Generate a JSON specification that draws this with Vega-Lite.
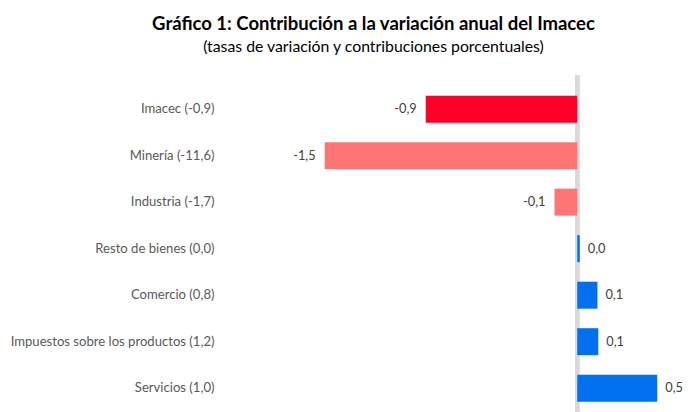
{
  "$schema": "https://vega.github.io/schema/vega-lite/v6.json",
  "autosize": {"type": "none"},
  "padding": {"left": 222, "top": 75, "right": 3, "bottom": 0},
  "width": 463,
  "height": 337,
  "background": "white",
  "title": {
    "text": "Gráfico 1: Contribución a la variación anual del Imacec",
    "subtitle": "(tasas de variación y contribuciones porcentuales)",
    "anchor": "middle",
    "dx": -80,
    "offset": 18,
    "font": "Lato",
    "fontSize": 18.5,
    "fontWeight": "bold",
    "color": "#000000",
    "subtitleFont": "Lato",
    "subtitleFontSize": 15.8,
    "subtitleColor": "#000000",
    "subtitlePadding": 7
  },
  "data": {
    "values": [
      {"sector": "Imacec (-0,9)", "contribucion": -0.9, "grupo": "Total"},
      {"sector": "Minería (-11,6)", "contribucion": -1.5, "grupo": "Negativo"},
      {"sector": "Industria (-1,7)", "contribucion": -0.135, "grupo": "Negativo"},
      {"sector": "Resto de bienes (0,0)", "contribucion": 0.015, "grupo": "Positivo"},
      {"sector": "Comercio (0,8)", "contribucion": 0.12, "grupo": "Positivo"},
      {"sector": "Impuestos sobre los productos (1,2)", "contribucion": 0.125, "grupo": "Positivo"},
      {"sector": "Servicios (1,0)", "contribucion": 0.475, "grupo": "Positivo"}
    ]
  },
  "encoding": {
    "y": {
      "field": "sector",
      "type": "nominal",
      "sort": null,
      "scale": {"paddingInner": 0.42, "paddingOuter": 0.333, "align": 0.667, "round": false},
      "axis": {"title": null, "domain": false, "ticks": false, "labelPadding": 8, "labelFont": "Lato", "labelFontSize": 13.1, "labelColor": "#595959", "labelLimit": 0}
    }
  },
  "layer": [
    {
      "mark": {"type": "rule", "color": "#d9d9d9", "strokeWidth": 4},
      "encoding": {
        "x": {"datum": 0, "type": "quantitative", "scale": {"domain": [-2.11, 0.64], "nice": false, "zero": false}, "axis": null},
        "y": null
      }
    },
    {
      "mark": {"type": "bar"},
      "encoding": {
        "x": {"field": "contribucion", "type": "quantitative", "scale": {"domain": [-2.11, 0.64], "nice": false, "zero": false}, "axis": null},
        "color": {
          "field": "grupo",
          "type": "nominal",
          "scale": {"domain": ["Total", "Negativo", "Positivo"], "range": ["#ff0027", "#ff7575", "#0070ee"]},
          "legend": null
        }
      }
    },
    {
      "transform": [{"filter": "datum.contribucion < 0"}],
      "mark": {"type": "text", "align": "right", "baseline": "middle", "dx": -9, "font": "Lato", "fontSize": 12.8, "color": "#404040"},
      "encoding": {
        "x": {"field": "contribucion", "type": "quantitative"},
        "text": {"field": "contribucion", "type": "quantitative", "format": ".1f"}
      }
    },
    {
      "transform": [{"filter": "datum.contribucion >= 0"}],
      "mark": {"type": "text", "align": "left", "baseline": "middle", "dx": 8, "font": "Lato", "fontSize": 12.8, "color": "#404040"},
      "encoding": {
        "x": {"field": "contribucion", "type": "quantitative"},
        "text": {"field": "contribucion", "type": "quantitative", "format": ".1f"}
      }
    }
  ],
  "config": {
    "view": {"stroke": null},
    "locale": {"number": {"decimal": ",", "thousands": ".", "grouping": [3], "currency": ["$", ""], "minus": "-"}}
  }
}
